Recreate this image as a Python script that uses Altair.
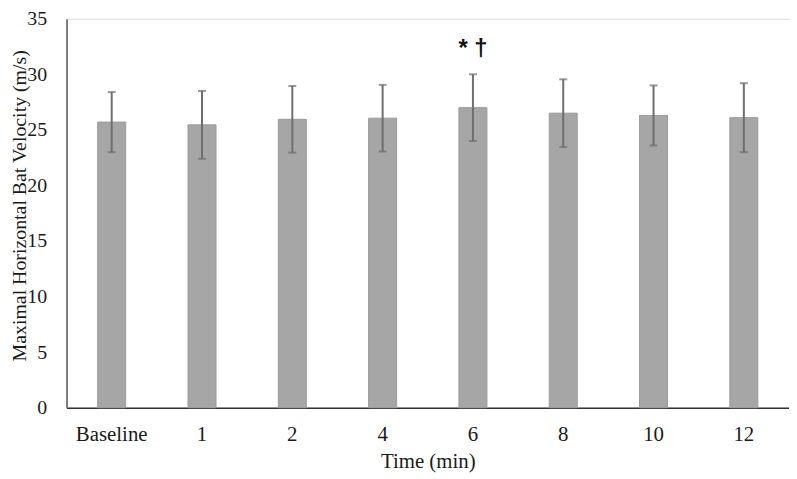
import altair as alt
import pandas as pd

times = ["Baseline", "1", "2", "4", "6", "8", "10", "12"]
means = [25.7, 25.45, 25.95, 26.05, 27.0, 26.5, 26.3, 26.1]
sds = [2.7, 3.05, 3.0, 3.0, 3.0, 3.05, 2.7, 3.1]
annot_time = ["6"]
annot_text = ["* \u2020"]
annot_y = [32.3]

df = pd.DataFrame({"time": times, "mean": means, "sd": sds})
df["lo"] = df["mean"] - df["sd"]
df["hi"] = df["mean"] + df["sd"]
ann = pd.DataFrame({"time": annot_time, "text": annot_text, "y": annot_y})

FONT = "Liberation Serif"

x = alt.X(
    "time:N",
    sort=times,
    scale=alt.Scale(paddingInner=0.69, paddingOuter=0.345),
    axis=alt.Axis(
        title="Time (min)",
        labelAngle=0,
        ticks=False,
        tickSize=0,
        domainColor="#333333",
        domainWidth=1.5,
        labelFont=FONT,
        labelFontSize=21,
        labelColor="#1a1a1a",
        labelPadding=16,
        titleFont=FONT,
        titleFontSize=21,
        titleFontWeight="normal",
        titleColor="#1a1a1a",
        titleY=54,
        titleBaseline="middle",
    ),
)

y_axis = alt.Axis(
    title="Maximal Horizontal Bat Velocity (m/s)",
    values=[0, 5, 10, 15, 20, 25, 30, 35],
    grid=False,
    ticks=False,
    tickSize=0,
    domainColor="#595959",
    domainWidth=1.5,
    labelFont=FONT,
    labelFontSize=20,
    labelColor="#1a1a1a",
    labelPadding=20,
    titleFont=FONT,
    titleFontSize=20,
    titleFontWeight="normal",
    titleColor="#1a1a1a",
    titleX=-47,
    titleY=188,
    titleAngle=270,
    titleAlign="center",
    titleBaseline="middle",
)
yscale = alt.Scale(domain=[0, 35], nice=False)

bars = alt.Chart(df).mark_bar(color="#a6a6a6", stroke="#9a9a9a", strokeWidth=1).encode(
    x=x,
    y=alt.Y("mean:Q", scale=yscale, axis=y_axis),
)

rules = alt.Chart(df).mark_rule(color="#6e6e6e", strokeWidth=2).encode(
    x=alt.X("time:N", sort=times),
    y=alt.Y("lo:Q"),
    y2="hi:Q",
)

cap_hi = alt.Chart(df).mark_tick(color="#6e6e6e", size=8, thickness=2, orient="horizontal").encode(
    x=alt.X("time:N", sort=times),
    y=alt.Y("hi:Q"),
)
cap_lo = alt.Chart(df).mark_tick(color="#6e6e6e", size=8, thickness=2, orient="horizontal").encode(
    x=alt.X("time:N", sort=times),
    y=alt.Y("lo:Q"),
)

text = alt.Chart(ann).mark_text(
    font="Liberation Sans", fontSize=24, fontWeight="bold", color="#111111", baseline="middle", dx=0
).encode(
    x=alt.X("time:N", sort=times),
    y=alt.Y("y:Q"),
    text="text:N",
)

chart = (
    alt.layer(bars, rules, cap_hi, cap_lo, text)
    .properties(
        width=728,
        height=392,
        autosize=alt.AutoSizeParams(type="none"),
        padding={"left": 59, "top": 9, "right": 0, "bottom": 70},
    )
    .configure_view(stroke=None)
    .configure(background="white")
)

chart.save("out.html", embed_options={"renderer": "svg", "actions": False})
